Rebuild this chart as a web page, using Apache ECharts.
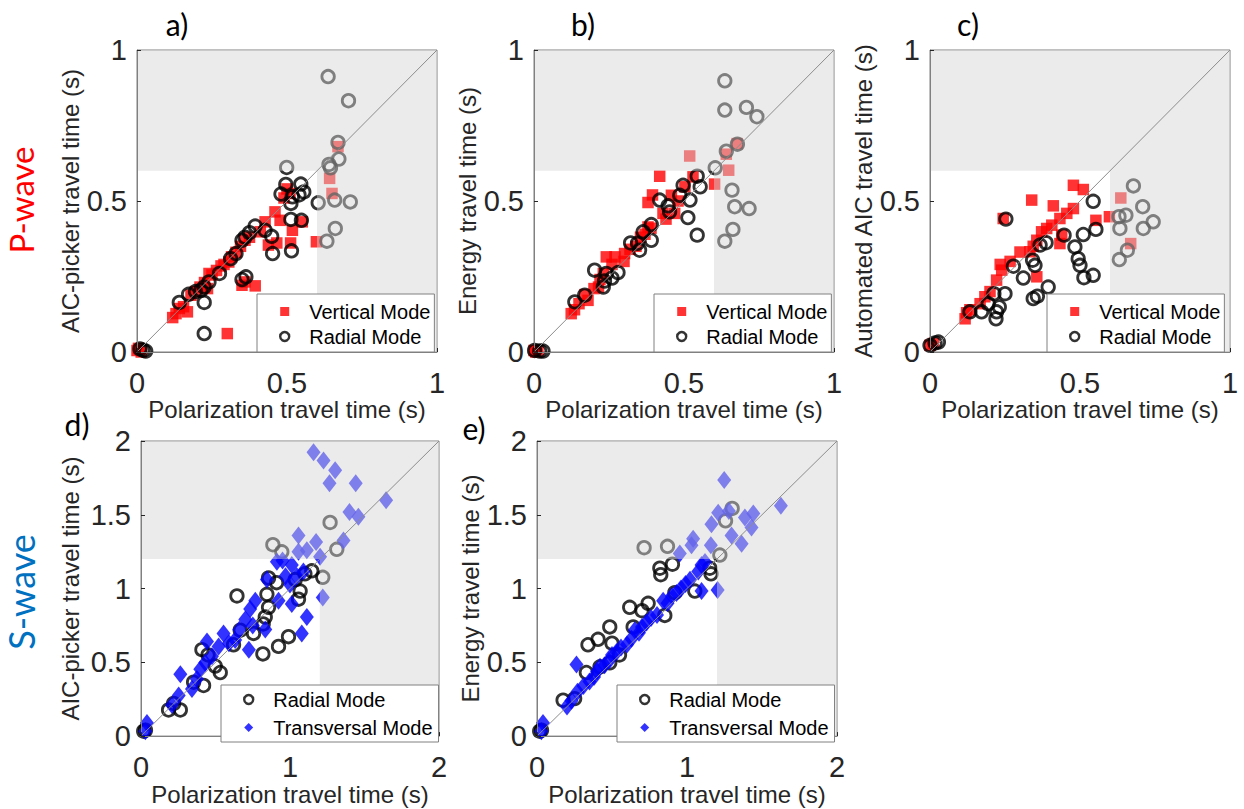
<!DOCTYPE html>
<html>
<head>
<meta charset="utf-8">
<script src="https://cdn.jsdelivr.net/npm/echarts@6/dist/echarts.min.js"></script>
<style>
  html, body { margin: 0; padding: 0; background: #fff; }
  #chart { width: 1244px; height: 809px; }
</style>
</head>
<body>
<div id="chart"></div>
<script>
// ---- Data: [polarization travel time (s), picked travel time (s)] ----

// a) P-wave, AIC picker
const aVertical = [
  [0.000,0.005],[0.014,0.000],[0.005,0.012],
  [0.119,0.114],[0.130,0.127],[0.141,0.144],[0.168,0.133],[0.155,0.150],
  [0.180,0.188],[0.195,0.200],[0.210,0.215],[0.235,0.210],[0.225,0.230],
  [0.240,0.260],[0.250,0.255],[0.265,0.270],[0.280,0.285],[0.290,0.290],[0.306,0.298],[0.315,0.315],
  [0.330,0.330],[0.345,0.350],[0.360,0.370],[0.375,0.380],[0.350,0.221],[0.394,0.219],[0.360,0.232],
  [0.411,0.398],[0.427,0.431],[0.438,0.354],[0.466,0.361],[0.512,0.361],
  [0.460,0.464],[0.477,0.436],[0.518,0.403],[0.551,0.431],[0.510,0.525],[0.490,0.510],[0.500,0.540],
  [0.301,0.061],
  [0.598,0.365],[0.642,0.575],[0.650,0.525],[0.670,0.680]
];
const aRadial = [
  [0.010,0.010],[0.020,0.006],[0.029,0.003],
  [0.141,0.164],[0.172,0.191],[0.195,0.200],[0.213,0.204],[0.224,0.215],[0.240,0.232],[0.224,0.164],[0.275,0.260],[0.224,0.061],
  [0.312,0.309],[0.330,0.326],[0.350,0.370],[0.360,0.380],[0.375,0.395],[0.394,0.417],[0.350,0.240],[0.363,0.249],
  [0.427,0.403],[0.449,0.383],[0.452,0.326],[0.515,0.335],
  [0.513,0.439],[0.548,0.436],[0.513,0.492],[0.480,0.523],[0.518,0.514],[0.556,0.530],[0.496,0.555],[0.546,0.556],[0.540,0.520],
  [0.499,0.611],[0.604,0.494],[0.640,0.621],[0.645,0.610],[0.673,0.639],[0.670,0.694],[0.659,0.503],[0.711,0.497],
  [0.661,0.409],[0.633,0.367],[0.705,0.832],[0.637,0.912]
];

// b) P-wave, energy picker
const bVertical = [
  [0.000,0.005],[0.013,0.005],[0.006,0.000],
  [0.124,0.127],[0.135,0.140],[0.150,0.160],[0.180,0.171],[0.170,0.190],[0.200,0.210],[0.215,0.215],[0.231,0.260],[0.220,0.240],
  [0.241,0.315],[0.270,0.315],[0.260,0.290],[0.300,0.300],[0.302,0.326],[0.320,0.340],[0.340,0.350],[0.355,0.380],
  [0.380,0.414],[0.390,0.410],[0.370,0.390],
  [0.430,0.459],[0.469,0.459],[0.440,0.440],[0.458,0.519],[0.480,0.500],[0.503,0.547],[0.530,0.580],[0.380,0.495],[0.395,0.520],[0.419,0.582],
  [0.519,0.649],[0.602,0.556],[0.649,0.602],[0.641,0.655],[0.677,0.690]
];
const bRadial = [
  [0.002,0.005],[0.019,0.003],[0.030,0.003],
  [0.136,0.166],[0.169,0.188],[0.202,0.271],[0.231,0.215],[0.241,0.260],[0.260,0.245],[0.280,0.263],[0.235,0.235],
  [0.322,0.361],[0.352,0.337],[0.364,0.398],[0.391,0.370],[0.391,0.422],[0.345,0.360],
  [0.419,0.503],[0.447,0.484],[0.452,0.464],[0.513,0.445],[0.544,0.387],[0.486,0.519],[0.520,0.503],[0.497,0.552],[0.554,0.547],[0.544,0.582],
  [0.604,0.610],[0.641,0.665],[0.678,0.688],[0.660,0.536],[0.669,0.481],[0.717,0.475],[0.663,0.406],[0.636,0.367],
  [0.636,0.801],[0.708,0.810],[0.743,0.779],[0.636,0.898]
];

// c) P-wave, automated AIC picker
const cVertical = [
  [0.000,0.022],[0.011,0.028],
  [0.117,0.110],[0.122,0.130],[0.133,0.140],[0.167,0.160],[0.183,0.183],[0.200,0.200],[0.222,0.238],[0.239,0.271],[0.234,0.290],
  [0.267,0.300],[0.300,0.331],[0.244,0.442],
  [0.356,0.249],[0.333,0.332],[0.344,0.350],[0.356,0.370],[0.372,0.398],[0.389,0.409],[0.406,0.420],[0.433,0.359],[0.439,0.387],
  [0.433,0.442],[0.456,0.459],[0.478,0.475],[0.411,0.484],[0.339,0.503],[0.478,0.552],[0.511,0.538],[0.553,0.436],
  [0.598,0.448],[0.636,0.510],[0.669,0.359]
];
const cRadial = [
  [0.000,0.022],[0.017,0.030],[0.028,0.033],
  [0.133,0.133],[0.172,0.133],[0.194,0.160],[0.213,0.193],[0.220,0.110],[0.222,0.133],[0.231,0.149],[0.250,0.193],[0.253,0.440],[0.278,0.284],
  [0.311,0.245],[0.342,0.304],[0.350,0.287],[0.344,0.177],[0.358,0.185],[0.394,0.215],[0.367,0.354],[0.387,0.362],
  [0.447,0.387],[0.483,0.348],[0.494,0.309],[0.500,0.287],[0.513,0.246],[0.544,0.254],[0.511,0.389],[0.553,0.406],[0.544,0.499],
  [0.630,0.448],[0.653,0.453],[0.633,0.409],[0.711,0.409],[0.744,0.431],[0.709,0.481],[0.678,0.550],[0.658,0.337],[0.631,0.306]
];

// d) S-wave, AIC picker
const dRadial = [
  [0.018,0.033],[0.030,0.040],
  [0.185,0.177],[0.219,0.221],[0.264,0.177],[0.353,0.365],[0.420,0.343],[0.409,0.586],[0.450,0.550],[0.498,0.475],[0.532,0.431],
  [0.621,0.619],[0.666,0.718],[0.755,0.696],[0.644,0.950],[0.818,0.557],[0.834,0.807],[0.820,0.760],[0.845,0.961],[0.856,0.873],
  [0.923,0.608],[0.990,0.674],
  [0.856,1.072],[0.910,1.040],[1.035,1.061],[1.068,0.983],[1.057,0.928],[1.100,1.100],[1.146,1.120],
  [0.885,1.297],[0.945,1.249],[1.220,1.076],[1.314,1.266],[1.269,1.448]
];
const dTransversal = [
  [0.029,0.033],[0.040,0.088],
  [0.208,0.210],[0.253,0.276],[0.264,0.420],[0.342,0.320],[0.375,0.387],[0.398,0.453],[0.431,0.497],[0.443,0.641],[0.476,0.541],[0.521,0.608],
  [0.554,0.696],[0.590,0.630],[0.632,0.652],[0.660,0.720],[0.700,0.790],[0.724,0.586],[0.733,0.862],[0.767,0.917],[0.750,0.750],[0.834,0.723],
  [0.845,1.061],[0.923,0.917],[0.970,1.083],[1.000,1.028],[1.012,1.160],[1.012,0.895],[1.046,1.083],[1.090,1.116],[1.113,0.807],[1.079,0.696],
  [0.912,1.182],[0.950,1.190],[1.057,1.249],[1.113,1.260],[1.202,1.215],[1.220,0.939],[1.057,1.359],[1.175,1.315],[1.359,1.326],
  [1.399,1.518],[1.459,1.487],[1.645,1.598],[1.265,1.713],[1.441,1.713],[1.303,1.801],[1.225,1.867],[1.158,1.923]
];

// e) S-wave, energy picker
const eRadial = [
  [0.018,0.033],[0.030,0.040],
  [0.174,0.243],[0.251,0.254],[0.329,0.431],[0.340,0.619],[0.407,0.656],[0.485,0.740],[0.485,0.497],[0.420,0.470],[0.550,0.550],[0.500,0.630],
  [0.618,0.873],[0.641,0.740],[0.741,0.900],[0.700,0.850],[0.852,0.818],[0.919,0.972],[1.052,0.983],[0.819,1.138],[0.825,1.094],
  [0.903,1.165],[1.152,1.138],[1.160,1.100],
  [0.714,1.277],[0.870,1.286],[1.219,1.227],[1.257,1.459],[1.301,1.543]
];
const eTransversal = [
  [0.029,0.033],[0.040,0.088],
  [0.200,0.200],[0.230,0.240],[0.263,0.486],[0.270,0.300],[0.310,0.340],[0.350,0.370],[0.380,0.400],[0.400,0.440],[0.420,0.470],
  [0.450,0.480],[0.480,0.510],[0.500,0.550],[0.530,0.570],[0.560,0.600],[0.600,0.620],[0.630,0.660],[0.652,0.718],[0.680,0.700],
  [0.700,0.740],[0.730,0.770],[0.760,0.800],[0.800,0.820],[0.841,0.917],[0.870,0.900],[0.900,0.950],[0.930,0.970],[0.960,1.000],
  [0.990,1.030],[1.020,1.060],[1.075,1.116],[1.097,1.160],[1.097,0.983],[1.120,1.180],
  [0.952,1.238],[1.030,1.293],[1.041,1.337],[1.159,1.293],[1.163,1.436],[1.208,1.514],[1.204,0.990],[1.279,1.525],[1.297,1.359],
  [1.364,1.304],[1.386,1.481],[1.430,1.414],[1.442,1.509],[1.626,1.562],[1.248,1.735]
];

// Tick values
const pTicks = [0, 0.5, 1];
const sTicksX = [0, 1, 2];
const sTicksY = [0, 0.5, 1, 1.5, 2];

// Thresholds of the shaded (excluded) zone
const pThreshold = 0.6;
const sThreshold = 1.2;

// ---- Styling ----
const AXIS_FONT = 'Liberation Sans';
const TITLE_FONT = 'Lato';
const TEXT = '#262626';
const FRAME = '#808080';

const markerStyles = {
  square:  { symbol: 'rect', symbolSize: 11.5, itemStyle: { color: '#ff0000' } },
  circle:  { symbol: 'circle', symbolSize: 12.5, itemStyle: { color: 'rgba(0,0,0,0)', borderColor: '#000', borderWidth: 2.8 } },
  diamond: { symbol: 'diamond', symbolSize: [14, 18], itemStyle: { color: '#0000ff' } }
};
const legendIcons = {
  square:  { icon: 'rect', itemStyle: { color: '#ff0000', borderWidth: 0 } },
  circle:  { icon: 'circle', itemStyle: { color: '#fff', borderColor: '#000', borderWidth: 2.4 } },
  diamond: { icon: 'diamond', itemStyle: { color: '#0000ff', borderWidth: 0 } }
};

const panels = [
  { grid: { left: 137, top: 50, width: 300, height: 302 }, xTicks: pTicks, yTicks: pTicks, thr: pThreshold,
    yName: 'AIC-picker travel time (s)', yGap: 50,
    series: [ { name: 'Vertical Mode', data: aVertical, kind: 'square' }, { name: 'Radial Mode', data: aRadial, kind: 'circle' } ],
    legend: { left: 257, top: 294, padding: [6, 4, 4, 22], itemGap: 2 } },
  { grid: { left: 534, top: 50, width: 300, height: 302 }, xTicks: pTicks, yTicks: pTicks, thr: pThreshold,
    yName: 'Energy travel time (s)', yGap: 52,
    series: [ { name: 'Vertical Mode', data: bVertical, kind: 'square' }, { name: 'Radial Mode', data: bRadial, kind: 'circle' } ],
    legend: { left: 654, top: 294, padding: [6, 4, 4, 22], itemGap: 2 } },
  { grid: { left: 930, top: 50, width: 300, height: 302 }, xTicks: pTicks, yTicks: pTicks, thr: pThreshold,
    yName: 'Automated AIC travel time (s)', yGap: 48,
    series: [ { name: 'Vertical Mode', data: cVertical, kind: 'square' }, { name: 'Radial Mode', data: cRadial, kind: 'circle' } ],
    legend: { left: 1047, top: 294, padding: [6, 4, 4, 22], itemGap: 2 } },
  { grid: { left: 141, top: 441, width: 298, height: 300 }, xTicks: sTicksX, yTicks: sTicksY, thr: sThreshold,
    yName: 'AIC-picker travel time (s)', yGap: 59,
    series: [ { name: 'Radial Mode', data: dRadial, kind: 'circle' }, { name: 'Transversal Mode', data: dTransversal, kind: 'diamond' } ],
    legend: { left: 221, top: 685, padding: [3, 6, 3, 22], itemGap: 5 } },
  { grid: { left: 537, top: 441, width: 300, height: 300 }, xTicks: sTicksX, yTicks: sTicksY, thr: sThreshold,
    yName: 'Energy travel time (s)', yGap: 55,
    series: [ { name: 'Radial Mode', data: eRadial, kind: 'circle' }, { name: 'Transversal Mode', data: eTransversal, kind: 'diamond' } ],
    legend: { left: 617, top: 685, padding: [3, 6, 3, 22], itemGap: 5 } }
];

function valueAxis(gi, ticks, extra) {
  return Object.assign({
    type: 'value', gridIndex: gi,
    min: ticks[0], max: ticks[ticks.length - 1], interval: ticks[1] - ticks[0],
    z: 5,
    axisLine: { show: true, onZero: false, lineStyle: { color: FRAME, width: 1 } },
    axisTick: { show: true, inside: true, length: 4, lineStyle: { color: TEXT, width: 1 } },
    splitLine: { show: false },
    nameLocation: 'middle'
  }, extra);
}

const grids = [], xAxes = [], yAxes = [], series = [], legends = [];

panels.forEach((p, i) => {
  const xMax = p.xTicks[p.xTicks.length - 1];
  grids.push(Object.assign({ show: true, borderColor: FRAME, borderWidth: 1, backgroundColor: '#fff', containLabel: false }, p.grid));

  xAxes.push(valueAxis(i, p.xTicks, {
    position: 'bottom',
    axisLabel: { fontSize: 29, color: TEXT, fontFamily: AXIS_FONT, margin: 16 },
    name: 'Polarization travel time (s)', nameGap: 36,
    nameTextStyle: { fontSize: 24, color: TEXT, fontFamily: AXIS_FONT, backgroundColor: '#fff', padding: [0, 2, 2, 2] }
  }));
  yAxes.push(valueAxis(i, p.yTicks, {
    position: 'left',
    axisLabel: { fontSize: 29, color: TEXT, fontFamily: AXIS_FONT, margin: 10 },
    name: p.yName, nameGap: p.yGap,
    nameTextStyle: { fontSize: 24, color: TEXT, fontFamily: AXIS_FONT }
  }));

  // measured points
  p.series.forEach(s => {
    const m = markerStyles[s.kind];
    series.push({
      type: 'scatter', name: s.name, xAxisIndex: i, yAxisIndex: i, z: 2,
      symbol: m.symbol, symbolSize: m.symbolSize, itemStyle: m.itemStyle,
      data: s.data, silent: true, clip: false
    });
  });

  // translucent shading of the zone beyond the threshold (L-shaped region)
  series.push({
    type: 'custom', xAxisIndex: i, yAxisIndex: i, z: 3, silent: true,
    data: [[p.thr, xMax]], encode: { x: 0, y: 1 },
    renderItem: (params, api) => {
      const t = api.value(0), m = api.value(1);
      const pts = [[t, 0], [m, 0], [m, m], [0, m], [0, t], [t, t]].map(q => api.coord(q));
      return { type: 'polygon', shape: { points: pts }, style: { fill: 'rgba(213,213,213,0.47)' } };
    }
  });

  // 1:1 reference line
  series.push({
    type: 'line', xAxisIndex: i, yAxisIndex: i, z: 4, silent: true,
    data: [[0, 0], [xMax, xMax]], symbol: 'none',
    lineStyle: { color: '#8c8c8c', width: 1 }
  });

  legends.push({
    orient: 'vertical', left: p.legend.left, top: p.legend.top,
    padding: p.legend.padding, itemGap: p.legend.itemGap,
    itemWidth: 9, itemHeight: 9, selectedMode: false, z: 10,
    backgroundColor: '#fff', borderColor: FRAME, borderWidth: 1, borderRadius: 0,
    textStyle: { fontSize: 20, color: '#000', fontFamily: AXIS_FONT, lineHeight: 23, padding: [0, 0, 0, 15] },
    data: p.series.map(s => Object.assign({ name: s.name }, legendIcons[s.kind]))
  });
});

// panel letters and wave-type labels
const panelLabels = [
  { text: 'a)', x: 177, y: 24 },
  { text: 'b)', x: 583, y: 24 },
  { text: 'c)', x: 968, y: 24 },
  { text: 'd)', x: 77, y: 424 },
  { text: 'e)', x: 474, y: 428 }
];
const graphics = panelLabels.map(l => ({
  type: 'text', x: l.x, y: l.y, z: 20,
  style: { text: l.text, fill: '#000', fontSize: 30, fontFamily: TITLE_FONT, align: 'center', verticalAlign: 'middle' }
}));
graphics.push({
  type: 'text', x: 21, y: 200, rotation: Math.PI / 2, z: 20,
  style: { text: 'P-wave', fill: '#ff0000', fontSize: 33, fontFamily: TITLE_FONT, align: 'center', verticalAlign: 'middle' }
});
graphics.push({
  type: 'text', x: 21, y: 592, rotation: Math.PI / 2, z: 20,
  style: { text: 'S-wave', fill: '#0070c0', fontSize: 36, fontFamily: TITLE_FONT, align: 'center', verticalAlign: 'middle' }
});

const chart = echarts.init(document.getElementById('chart'), null, { renderer: 'svg' });
chart.setOption({
  animation: false,
  backgroundColor: '#fff',
  textStyle: { fontFamily: AXIS_FONT },
  grid: grids,
  xAxis: xAxes,
  yAxis: yAxes,
  legend: legends,
  series: series,
  graphic: graphics
});
</script>
</body>
</html>
